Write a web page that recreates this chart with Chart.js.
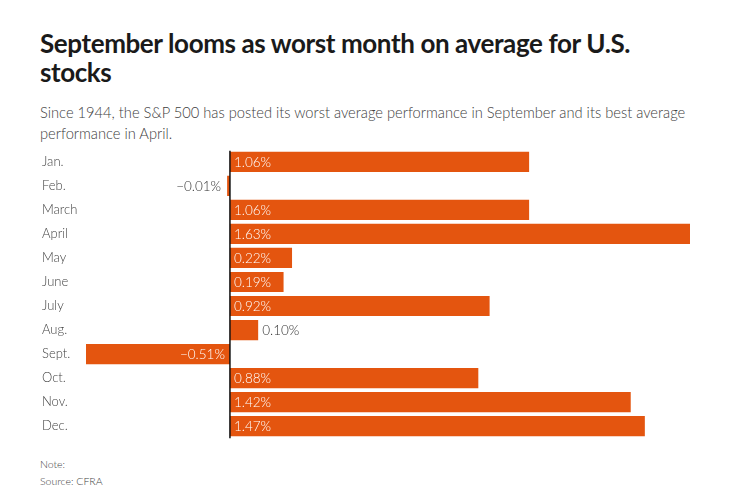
<!DOCTYPE html>
<html>
<head>
<meta charset="utf-8">
<script src="https://cdn.jsdelivr.net/npm/chart.js@4.4.1/dist/chart.umd.min.js"></script>
<style>
  html, body { margin: 0; padding: 0; background: #fff; }
  body { width: 748px; height: 500px; position: relative; overflow: hidden; font-family: Lato, "Noto Sans", sans-serif; }
  #title { position: absolute; left: 40px; top: 29px; width: 700px; font-size: 26px; font-weight: 700; line-height: 29px; color: #1a1a1a; letter-spacing: -0.4px; }
  #sub { position: absolute; left: 40px; top: 102px; width: 690px; font-size: 14.7px; font-weight: 300; line-height: 21px; color: #404040; }
  #note { position: absolute; left: 40px; top: 456px; font-size: 10.5px; line-height: 17px; color: #444; font-weight: 300; }
  #wrap { position: absolute; left: 0; top: 142px; width: 748px; height: 304px; }
</style>
</head>
<body>
<div id="title">September looms as worst month on average for U.S.<br>stocks</div>
<div id="sub">Since 1944, the S&amp;P 500 has posted its worst average performance in September and its best average performance in April.</div>
<div id="wrap"><canvas id="c"></canvas></div>
<div id="note">Note:<br>Source: CFRA</div>
<script>
const months = ["Jan.", "Feb.", "March", "April", "May", "June", "July", "Aug.", "Sept.", "Oct.", "Nov.", "Dec."];
const avgReturn = [1.06, -0.01, 1.06, 1.63, 0.22, 0.19, 0.92, 0.10, -0.51, 0.88, 1.42, 1.47];
const valueLabels = ["1.06%", "\u22120.01%", "1.06%", "1.63%", "0.22%", "0.19%", "0.92%", "0.10%", "\u22120.51%", "0.88%", "1.42%", "1.47%"];

const BAR = '#E4550F';
const LABEL_FONT = '300 13.5px Lato, "Noto Sans", sans-serif';

const zeroLine = {
  id: 'zeroLine',
  afterDatasetsDraw(chart) {
    const x = chart.scales.x.getPixelForValue(0);
    const a = chart.chartArea;
    const ctx = chart.ctx;
    ctx.save();
    ctx.strokeStyle = '#111';
    ctx.lineWidth = 1.5;
    ctx.beginPath();
    ctx.moveTo(x, a.top + 1);
    ctx.lineTo(x, a.bottom);
    ctx.stroke();
    ctx.restore();
  }
};

const valueLabelPlugin = {
  id: 'valueLabels',
  afterDatasetsDraw(chart) {
    const ctx = chart.ctx;
    const meta = chart.getDatasetMeta(0);
    const x0 = chart.scales.x.getPixelForValue(0);
    ctx.save();
    ctx.font = LABEL_FONT;
    ctx.textBaseline = 'middle';
    meta.data.forEach((bar, i) => {
      const v = avgReturn[i];
      const txt = valueLabels[i];
      const w = ctx.measureText(txt).width;
      const barW = Math.abs(bar.x - x0);
      const y = bar.y + 0.5;
      if (v >= 0) {
        if (barW >= w + 6) {
          ctx.fillStyle = '#fff'; ctx.textAlign = 'left';
          ctx.fillText(txt, x0 + 4, y);
        } else {
          ctx.fillStyle = '#333'; ctx.textAlign = 'left';
          ctx.fillText(txt, bar.x + 4, y);
        }
      } else {
        if (barW >= w + 6) {
          ctx.fillStyle = '#fff'; ctx.textAlign = 'right';
          ctx.fillText(txt, x0 - 5, y);
        } else {
          ctx.fillStyle = '#333'; ctx.textAlign = 'right';
          ctx.fillText(txt, bar.x - 6, y);
        }
      }
    });
    ctx.restore();
  }
};

new Chart(document.getElementById('c'), {
  type: 'bar',
  data: {
    labels: months,
    datasets: [{
      data: avgReturn,
      backgroundColor: BAR,
      borderWidth: 0,
      categoryPercentage: 1.0,
      barPercentage: 0.84
    }]
  },
  options: {
    indexAxis: 'y',
    responsive: true,
    maintainAspectRatio: false,
    animation: false,
    layout: { padding: { left: 42, right: 58, top: 0, bottom: 0 } },
    plugins: { legend: { display: false }, tooltip: { enabled: false } },
    scales: {
      x: {
        min: -0.51, max: 1.63,
        display: false,
        grid: { display: false }
      },
      y: {
        grid: { display: false, drawTicks: false },
        border: { display: false },
        ticks: {
          crossAlign: 'far',
          padding: 0,
          color: '#444',
          font: { family: 'Lato, "Noto Sans", sans-serif', size: 13, weight: 300 }
        },
        afterFit(scale) { scale.width = 44; }
      }
    }
  },
  plugins: [zeroLine, valueLabelPlugin]
});
</script>
</body>
</html>
